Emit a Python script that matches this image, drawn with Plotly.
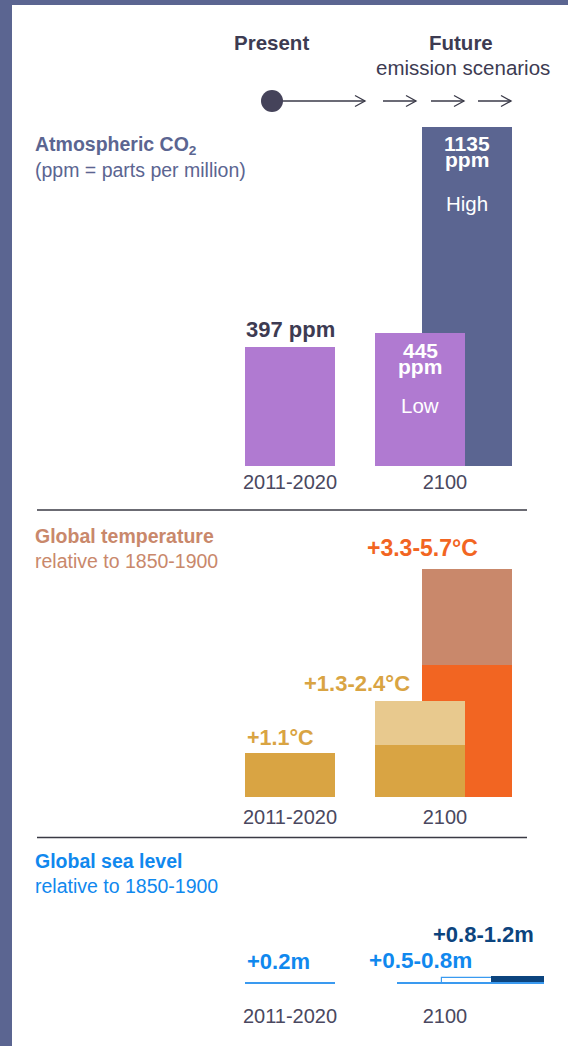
import plotly.graph_objects as go

# ---------------- data ----------------
categories = ["2011-2020", "2100"]
co2_present = 397
co2_low = 445
co2_high = 1135
temp_present = 1.1
temp_low = [1.3, 2.4]
temp_high = [3.3, 5.7]
sea_present = 0.2
sea_low = [0.5, 0.8]
sea_high = [0.8, 1.2]

# ---------------- layout helpers ----------------
W, H = 568, 1046
FONT = "Liberation Sans, Arial, sans-serif"
SLATE = "#5b6591"
LILAC = "#b07ad1"
DARK = "#3d3b52"
CAT = "#4a4860"
TERRA = "#c9886b"
GOLD = "#d9a443"
LGOLD = "#e8c98e"
ORANGE = "#f26522"
BLUE_T = "#1088ee"
BLUE_L = "#3a9af0"
NAVY = "#0c447e"

def fx(px):
    return px / W

def fy(py):
    return 1 - py / H

UNIT = 155.0           # pixels per category step
C0 = 290.0             # pixel centre of first category
XR = [-C0 / UNIT, (W - C0) / UNIT]
BW = 90 / UNIT
POS0 = 0
POS_LOW = 0.84
POS_HIGH = 1.145

fig = go.Figure()

def bar(x, y, width, color, xa, ya, line=None):
    m = dict(color=color, line=dict(width=0)) if line is None else dict(color=color, line=line)
    fig.add_trace(go.Bar(x=[x], y=[y], width=width, marker=m, xaxis=xa, yaxis=ya,
                         opacity=1, hoverinfo="skip"))

# ---- CO2 panel (y) ----
co2_base, co2_scale, co2_top = 466, 0.2987, 100
bar(POS0, co2_present, BW, LILAC, "x", "y")
bar(POS_HIGH, co2_high, BW, SLATE, "x", "y")
bar(POS_LOW, co2_low, BW, LILAC, "x", "y")

# ---- Temperature panel (y2) ----
t_base, t_scale, t_top = 797, 40.0, 530
bar(POS0, temp_present, BW, GOLD, "x2", "y2")
bar(POS_HIGH, temp_high[1], BW, TERRA, "x2", "y2")
bar(POS_HIGH, temp_high[0], BW, ORANGE, "x2", "y2")
bar(POS_LOW, temp_low[1], BW, LGOLD, "x2", "y2")
bar(POS_LOW, temp_low[0], BW, GOLD, "x2", "y2")

# ---- Sea level panel (y3) ----
s_base, s_scale, s_top = 984, 7.0, 900
SEA_LOW_POS, SEA_LOW_W = 1 + 25.5 / UNIT, 147 / UNIT
SEA_HB_POS, SEA_HB_W = 1 + 48 / UNIT, 102 / UNIT
SEA_HN_POS, SEA_HN_W = 1 + 72.5 / UNIT, 53 / UNIT
bar(SEA_HB_POS, sea_high[0], SEA_HB_W, "white", "x3", "y3", line=dict(color=BLUE_L, width=1.2))
bar(SEA_HN_POS, sea_high[1], SEA_HN_W, NAVY, "x3", "y3")
bar(SEA_LOW_POS, sea_low[1] - sea_low[0], SEA_LOW_W, BLUE_L, "x3", "y3")
bar(POS0, sea_present, BW, BLUE_L, "x3", "y3")

def xaxis(anchor, standoff):
    return dict(domain=[0, 1], range=XR, anchor=anchor, tickvals=[0, 1],
                ticktext=categories, showgrid=False, zeroline=False, showline=False,
                ticks="", tickfont=dict(family=FONT, size=20, color=CAT),
                ticklabelstandoff=standoff, fixedrange=True)

def yaxis(base, scale, top):
    return dict(domain=[fy(base), fy(top)], range=[0, (base - top) / scale],
                visible=False, showgrid=False, zeroline=False, fixedrange=True)

fig.update_layout(
    width=W, height=H, margin=dict(l=0, r=0, t=0, b=0),
    paper_bgcolor="white", plot_bgcolor="rgba(0,0,0,0)",
    barmode="overlay", showlegend=False, bargap=0,
    xaxis=xaxis("y", 2), yaxis=yaxis(co2_base, co2_scale, co2_top),
    xaxis2=xaxis("y2", 6), yaxis2=yaxis(t_base, t_scale, t_top),
    xaxis3=xaxis("y3", 18), yaxis3=yaxis(s_base, s_scale, s_top),
    font=dict(family=FONT),
)

ann = []
def A(text, x, y, xref="paper", yref="paper", size=20, color=DARK, bold=False,
      xanchor="center", yanchor="middle", xshift=0, yshift=0):
    t = f"<b>{text}</b>" if bold else text
    ann.append(dict(text=t, x=x, y=y, xref=xref, yref=yref, showarrow=False,
                    font=dict(family=FONT, size=size, color=color),
                    xanchor=xanchor, yanchor=yanchor, xshift=xshift, yshift=yshift))

# header
A("Present", fx(271), fy(43), bold=True, size=20.5)
A("Future", fx(461), fy(43), bold=True, size=20.5)
A("emission scenarios", fx(463), fy(68), size=20.5)

# section titles
TX = 33
A("Atmospheric CO<sub>2</sub>", fx(TX), fy(145), bold=True, color=SLATE, xanchor="left", size=19.5)
A("(ppm = parts per million)", fx(TX), fy(170), color=SLATE, xanchor="left", size=19.5)
A("Global temperature", fx(TX), fy(536), bold=True, color=TERRA, xanchor="left", size=19.5)
A("relative to 1850-1900", fx(TX), fy(561), color=TERRA, xanchor="left", size=19.5)
A("Global sea level", fx(TX), fy(861), bold=True, color=BLUE_T, xanchor="left", size=19.5)
A("relative to 1850-1900", fx(TX), fy(886), color=BLUE_T, xanchor="left", size=19.5)

# CO2 labels
A(f"{co2_present} ppm", POS0, co2_present, "x", "y", bold=True, yshift=18, size=22)
A(f"{co2_low}", POS_LOW, co2_low, "x", "y", bold=True, color="white", yshift=-17, size=21)
A("ppm", POS_LOW, co2_low, "x", "y", bold=True, color="white", yshift=-33, size=21)
A("Low", POS_LOW, co2_low, "x", "y", color="white", yshift=-72, size=20.5)
A(f"{co2_high}", POS_HIGH, co2_high, "x", "y", bold=True, color="white", yshift=-17, size=21)
A("ppm", POS_HIGH, co2_high, "x", "y", bold=True, color="white", yshift=-33, size=21)
A("High", POS_HIGH, co2_high, "x", "y", color="white", yshift=-77, size=20.5)

# temperature labels
A(f"+{temp_present}°C", POS0 - BW / 2, temp_present, "x2", "y2", bold=True, color=GOLD,
  xanchor="left", yshift=15, size=21.5)
A(f"+{temp_low[0]}-{temp_low[1]}°C", POS_LOW, temp_low[1], "x2", "y2", bold=True, color=GOLD,
  xshift=-63, yshift=18, size=22)
A(f"+{temp_high[0]}-{temp_high[1]}°C", POS_HIGH - BW / 2, temp_high[1], "x2", "y2", bold=True,
  color=ORANGE, yshift=21, size=23)

# sea level labels
A(f"+{sea_present}m", POS0 - BW / 2, sea_present, "x3", "y3", bold=True, color=BLUE_T,
  xanchor="left", yshift=21, size=22)
A(f"+{sea_low[0]}-{sea_low[1]}m", POS_LOW, sea_low[1] - sea_low[0], "x3", "y3", bold=True,
  color=BLUE_T, yshift=21, size=22.5)
A(f"+{sea_high[0]}-{sea_high[1]}m", POS_HIGH, sea_high[1], "x3", "y3", bold=True,
  color=NAVY, xshift=16, yshift=41, size=22)

fig.update_layout(annotations=ann)

# decorative shapes: frame, separators, timeline arrows
shapes = []
shapes.append(dict(type="rect", xref="paper", yref="paper", x0=0, x1=fx(12), y0=0, y1=1,
                   fillcolor=SLATE, line_width=0, layer="above"))
shapes.append(dict(type="rect", xref="paper", yref="paper", x0=0, x1=1, y0=fy(5), y1=1,
                   fillcolor=SLATE, line_width=0, layer="above"))
for sy in (510, 837.5):
    shapes.append(dict(type="line", xref="paper", yref="paper", x0=fx(37), x1=fx(527),
                       y0=fy(sy), y1=fy(sy), line=dict(color="#3a3a44", width=1.4)))
AY = 101
ARROW = "#3a3a48"
for (a0, a1) in [(272, 365), (383, 416), (431, 464), (478, 511)]:
    shapes.append(dict(type="line", xref="paper", yref="paper", x0=fx(a0), x1=fx(a1),
                       y0=fy(AY), y1=fy(AY), line=dict(color=ARROW, width=1.3)))
    shapes.append(dict(type="path", xref="paper", yref="paper",
                       path=f"M {fx(a1-10)} {fy(AY-5.5)} L {fx(a1)} {fy(AY)} L {fx(a1-10)} {fy(AY+5.5)}",
                       line=dict(color=ARROW, width=1.3)))
shapes.append(dict(type="circle", xref="paper", yref="paper", x0=fx(261), x1=fx(283),
                   y0=fy(AY + 11), y1=fy(AY - 11), fillcolor="#45435a", line_width=0))
fig.update_layout(shapes=shapes)

fig.write_html("out.html", config={"displayModeBar": False})
